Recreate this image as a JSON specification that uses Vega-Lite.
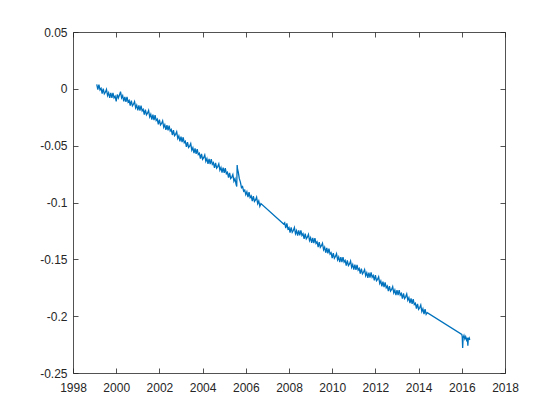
{
  "$schema": "https://vega.github.io/schema/vega-lite/v6.json",
  "width": 432,
  "height": 341,
  "autosize": "none",
  "padding": {"left": 73, "top": 32, "right": 55, "bottom": 47},
  "background": "white",
  "config": {
    "view": {"stroke": null},
    "axis": {
      "grid": false,
      "domainColor": "#262626",
      "domainWidth": 0.8,
      "tickColor": "#262626",
      "tickWidth": 0.8,
      "tickSize": -5,
      "labelFont": "Liberation Sans",
      "labelFontSize": 12,
      "labelColor": "#262626",
      "title": null
    }
  },
  "data": {"values": [
    {"t": 1999.10, "v": 0.004}, {"t": 1999.15, "v": -0.0006}, {"t": 1999.20, "v": 0.0038}, {"t": 1999.25, "v": -0.0009},
    {"t": 1999.30, "v": 0.0005}, {"t": 1999.35, "v": -0.0041}, {"t": 1999.40, "v": 0.0002}, {"t": 1999.45, "v": -0.0044},
    {"t": 1999.50, "v": -0.003}, {"t": 1999.55, "v": -0.0005}, {"t": 1999.60, "v": -0.006}, {"t": 1999.65, "v": -0.0035},
    {"t": 1999.70, "v": -0.008}, {"t": 1999.75, "v": -0.0035}, {"t": 1999.80, "v": -0.008}, {"t": 1999.85, "v": -0.0035},
    {"t": 1999.90, "v": -0.008}, {"t": 1999.95, "v": -0.0065}, {"t": 2000.00, "v": -0.011}, {"t": 2000.05, "v": -0.005},
    {"t": 2000.10, "v": -0.008}, {"t": 2000.15, "v": -0.0055}, {"t": 2000.20, "v": -0.0025}, {"t": 2000.25, "v": -0.008},
    {"t": 2000.30, "v": -0.006}, {"t": 2000.35, "v": -0.011}, {"t": 2000.40, "v": -0.007}, {"t": 2000.45, "v": -0.0115},
    {"t": 2000.50, "v": -0.007}, {"t": 2000.55, "v": -0.0116}, {"t": 2000.60, "v": -0.0102}, {"t": 2000.65, "v": -0.0148},
    {"t": 2000.70, "v": -0.0104}, {"t": 2000.75, "v": -0.015}, {"t": 2000.80, "v": -0.0136}, {"t": 2000.85, "v": -0.0112},
    {"t": 2000.90, "v": -0.0168}, {"t": 2000.95, "v": -0.0144}, {"t": 2001.00, "v": -0.019}, {"t": 2001.05, "v": -0.0146},
    {"t": 2001.10, "v": -0.0192}, {"t": 2001.15, "v": -0.0148}, {"t": 2001.20, "v": -0.0194}, {"t": 2001.25, "v": -0.018},
    {"t": 2001.30, "v": -0.0226}, {"t": 2001.35, "v": -0.0182}, {"t": 2001.40, "v": -0.0228}, {"t": 2001.45, "v": -0.0214},
    {"t": 2001.50, "v": -0.019}, {"t": 2001.55, "v": -0.0247}, {"t": 2001.60, "v": -0.0224}, {"t": 2001.65, "v": -0.0271},
    {"t": 2001.70, "v": -0.0228}, {"t": 2001.75, "v": -0.0275}, {"t": 2001.80, "v": -0.0232}, {"t": 2001.85, "v": -0.0279},
    {"t": 2001.90, "v": -0.0266}, {"t": 2001.95, "v": -0.0313}, {"t": 2002.00, "v": -0.027}, {"t": 2002.05, "v": -0.0317},
    {"t": 2002.10, "v": -0.0304}, {"t": 2002.15, "v": -0.0281}, {"t": 2002.20, "v": -0.0338}, {"t": 2002.25, "v": -0.0315},
    {"t": 2002.30, "v": -0.0362}, {"t": 2002.35, "v": -0.0319}, {"t": 2002.40, "v": -0.0366}, {"t": 2002.45, "v": -0.0323},
    {"t": 2002.50, "v": -0.037}, {"t": 2002.55, "v": -0.0358}, {"t": 2002.60, "v": -0.0406}, {"t": 2002.65, "v": -0.0364},
    {"t": 2002.70, "v": -0.0412}, {"t": 2002.75, "v": -0.040}, {"t": 2002.80, "v": -0.0378}, {"t": 2002.85, "v": -0.0436},
    {"t": 2002.90, "v": -0.0414}, {"t": 2002.95, "v": -0.0462}, {"t": 2003.00, "v": -0.042}, {"t": 2003.05, "v": -0.0468},
    {"t": 2003.10, "v": -0.0426}, {"t": 2003.15, "v": -0.0474}, {"t": 2003.20, "v": -0.0462}, {"t": 2003.25, "v": -0.051},
    {"t": 2003.30, "v": -0.0468}, {"t": 2003.35, "v": -0.0516}, {"t": 2003.40, "v": -0.0504}, {"t": 2003.45, "v": -0.0482},
    {"t": 2003.50, "v": -0.054}, {"t": 2003.55, "v": -0.0518}, {"t": 2003.60, "v": -0.0566}, {"t": 2003.65, "v": -0.0524},
    {"t": 2003.70, "v": -0.0572}, {"t": 2003.75, "v": -0.053}, {"t": 2003.80, "v": -0.0578}, {"t": 2003.85, "v": -0.0566},
    {"t": 2003.90, "v": -0.0614}, {"t": 2003.95, "v": -0.0572}, {"t": 2004.00, "v": -0.062}, {"t": 2004.05, "v": -0.0606},
    {"t": 2004.10, "v": -0.0582}, {"t": 2004.15, "v": -0.0638}, {"t": 2004.20, "v": -0.0614}, {"t": 2004.25, "v": -0.066},
    {"t": 2004.30, "v": -0.0616}, {"t": 2004.35, "v": -0.0662}, {"t": 2004.40, "v": -0.0618}, {"t": 2004.45, "v": -0.0664},
    {"t": 2004.50, "v": -0.065}, {"t": 2004.55, "v": -0.0696}, {"t": 2004.60, "v": -0.0652}, {"t": 2004.65, "v": -0.0698},
    {"t": 2004.70, "v": -0.0684}, {"t": 2004.75, "v": -0.066}, {"t": 2004.80, "v": -0.0716}, {"t": 2004.85, "v": -0.0692},
    {"t": 2004.90, "v": -0.0738}, {"t": 2004.95, "v": -0.0694}, {"t": 2005.00, "v": -0.074}, {"t": 2005.05, "v": -0.0698},
    {"t": 2005.10, "v": -0.0746}, {"t": 2005.15, "v": -0.0734}, {"t": 2005.20, "v": -0.0782}, {"t": 2005.25, "v": -0.074},
    {"t": 2005.30, "v": -0.0788}, {"t": 2005.35, "v": -0.0776}, {"t": 2005.40, "v": -0.0754}, {"t": 2005.45, "v": -0.0812},
    {"t": 2005.50, "v": -0.079}, {"t": 2005.55, "v": -0.084}, {"t": 2005.58, "v": -0.086}, {"t": 2005.60, "v": -0.067},
    {"t": 2005.62, "v": -0.071}, {"t": 2005.65, "v": -0.073}, {"t": 2005.70, "v": -0.079}, {"t": 2005.75, "v": -0.082},
    {"t": 2005.80, "v": -0.087}, {"t": 2005.85, "v": -0.086}, {"t": 2005.90, "v": -0.090}, {"t": 2005.95, "v": -0.089},
    {"t": 2006.00, "v": -0.093}, {"t": 2006.05, "v": -0.0906}, {"t": 2006.10, "v": -0.0953}, {"t": 2006.15, "v": -0.0909},
    {"t": 2006.20, "v": -0.0956}, {"t": 2006.25, "v": -0.0942}, {"t": 2006.30, "v": -0.0988}, {"t": 2006.35, "v": -0.0945},
    {"t": 2006.40, "v": -0.0991}, {"t": 2006.45, "v": -0.0978}, {"t": 2006.50, "v": -0.0954}, {"t": 2006.55, "v": -0.101},
    {"t": 2006.60, "v": -0.0987}, {"t": 2006.65, "v": -0.1033}, {"t": 2006.70, "v": -0.101}, {"t": 2007.75, "v": -0.119},
    {"t": 2007.80, "v": -0.1178}, {"t": 2007.85, "v": -0.1226}, {"t": 2007.90, "v": -0.1184}, {"t": 2007.95, "v": -0.1232},
    {"t": 2008.00, "v": -0.122}, {"t": 2008.05, "v": -0.1264}, {"t": 2008.10, "v": -0.1218}, {"t": 2008.15, "v": -0.1262},
    {"t": 2008.20, "v": -0.1246}, {"t": 2008.25, "v": -0.122}, {"t": 2008.30, "v": -0.1274}, {"t": 2008.35, "v": -0.1248},
    {"t": 2008.40, "v": -0.1292}, {"t": 2008.45, "v": -0.1246}, {"t": 2008.50, "v": -0.129}, {"t": 2008.55, "v": -0.1245},
    {"t": 2008.60, "v": -0.129}, {"t": 2008.65, "v": -0.1275}, {"t": 2008.70, "v": -0.132}, {"t": 2008.75, "v": -0.1275},
    {"t": 2008.80, "v": -0.132}, {"t": 2008.85, "v": -0.1305}, {"t": 2008.90, "v": -0.128}, {"t": 2008.95, "v": -0.1335},
    {"t": 2009.00, "v": -0.131}, {"t": 2009.05, "v": -0.1356}, {"t": 2009.10, "v": -0.1312}, {"t": 2009.15, "v": -0.1358},
    {"t": 2009.20, "v": -0.1314}, {"t": 2009.25, "v": -0.136}, {"t": 2009.30, "v": -0.1346}, {"t": 2009.35, "v": -0.1392},
    {"t": 2009.40, "v": -0.1348}, {"t": 2009.45, "v": -0.1394}, {"t": 2009.50, "v": -0.138}, {"t": 2009.55, "v": -0.1358},
    {"t": 2009.60, "v": -0.1416}, {"t": 2009.65, "v": -0.1394}, {"t": 2009.70, "v": -0.1442}, {"t": 2009.75, "v": -0.140},
    {"t": 2009.80, "v": -0.1448}, {"t": 2009.85, "v": -0.1406}, {"t": 2009.90, "v": -0.1454}, {"t": 2009.95, "v": -0.1442},
    {"t": 2010.00, "v": -0.149}, {"t": 2010.05, "v": -0.1445}, {"t": 2010.10, "v": -0.149}, {"t": 2010.15, "v": -0.1475},
    {"t": 2010.20, "v": -0.145}, {"t": 2010.25, "v": -0.1505}, {"t": 2010.30, "v": -0.148}, {"t": 2010.35, "v": -0.1525},
    {"t": 2010.40, "v": -0.148}, {"t": 2010.45, "v": -0.1525}, {"t": 2010.50, "v": -0.148}, {"t": 2010.55, "v": -0.1525},
    {"t": 2010.60, "v": -0.151}, {"t": 2010.65, "v": -0.1555}, {"t": 2010.70, "v": -0.151}, {"t": 2010.75, "v": -0.1555},
    {"t": 2010.80, "v": -0.154}, {"t": 2010.85, "v": -0.1515}, {"t": 2010.90, "v": -0.157}, {"t": 2010.95, "v": -0.1545},
    {"t": 2011.00, "v": -0.159}, {"t": 2011.05, "v": -0.1546}, {"t": 2011.10, "v": -0.1592}, {"t": 2011.15, "v": -0.1548},
    {"t": 2011.20, "v": -0.1594}, {"t": 2011.25, "v": -0.158}, {"t": 2011.30, "v": -0.1626}, {"t": 2011.35, "v": -0.1582},
    {"t": 2011.40, "v": -0.1628}, {"t": 2011.45, "v": -0.1614}, {"t": 2011.50, "v": -0.159}, {"t": 2011.55, "v": -0.1644},
    {"t": 2011.60, "v": -0.1618}, {"t": 2011.65, "v": -0.1662}, {"t": 2011.70, "v": -0.1616}, {"t": 2011.75, "v": -0.166},
    {"t": 2011.80, "v": -0.1614}, {"t": 2011.85, "v": -0.1658}, {"t": 2011.90, "v": -0.1642}, {"t": 2011.95, "v": -0.1686},
    {"t": 2012.00, "v": -0.164}, {"t": 2012.05, "v": -0.1688}, {"t": 2012.10, "v": -0.1676}, {"t": 2012.15, "v": -0.1654},
    {"t": 2012.20, "v": -0.1712}, {"t": 2012.25, "v": -0.169}, {"t": 2012.30, "v": -0.1738}, {"t": 2012.35, "v": -0.1696},
    {"t": 2012.40, "v": -0.1744}, {"t": 2012.45, "v": -0.1702}, {"t": 2012.50, "v": -0.175}, {"t": 2012.55, "v": -0.1735},
    {"t": 2012.60, "v": -0.178}, {"t": 2012.65, "v": -0.1735}, {"t": 2012.70, "v": -0.178}, {"t": 2012.75, "v": -0.1765},
    {"t": 2012.80, "v": -0.174}, {"t": 2012.85, "v": -0.1795}, {"t": 2012.90, "v": -0.177}, {"t": 2012.95, "v": -0.1815},
    {"t": 2013.00, "v": -0.177}, {"t": 2013.05, "v": -0.1815}, {"t": 2013.10, "v": -0.177}, {"t": 2013.15, "v": -0.1815},
    {"t": 2013.20, "v": -0.180}, {"t": 2013.25, "v": -0.1845}, {"t": 2013.30, "v": -0.180}, {"t": 2013.35, "v": -0.1845},
    {"t": 2013.40, "v": -0.183}, {"t": 2013.45, "v": -0.1805}, {"t": 2013.50, "v": -0.186}, {"t": 2013.55, "v": -0.1838},
    {"t": 2013.60, "v": -0.1886}, {"t": 2013.65, "v": -0.1844}, {"t": 2013.70, "v": -0.1892}, {"t": 2013.75, "v": -0.185},
    {"t": 2013.80, "v": -0.1898}, {"t": 2013.85, "v": -0.1886}, {"t": 2013.90, "v": -0.1934}, {"t": 2013.95, "v": -0.1892},
    {"t": 2014.00, "v": -0.194}, {"t": 2014.05, "v": -0.1926}, {"t": 2014.10, "v": -0.1902}, {"t": 2014.15, "v": -0.1959},
    {"t": 2014.20, "v": -0.1935}, {"t": 2014.25, "v": -0.1981}, {"t": 2014.30, "v": -0.1938}, {"t": 2014.35, "v": -0.1984},
    {"t": 2014.40, "v": -0.197}, {"t": 2016.00, "v": -0.216}, {"t": 2016.02, "v": -0.218}, {"t": 2016.04, "v": -0.228},
    {"t": 2016.06, "v": -0.219}, {"t": 2016.10, "v": -0.217}, {"t": 2016.14, "v": -0.220}, {"t": 2016.18, "v": -0.218},
    {"t": 2016.22, "v": -0.221}, {"t": 2016.26, "v": -0.219}, {"t": 2016.28, "v": -0.226}, {"t": 2016.30, "v": -0.220},
    {"t": 2016.34, "v": -0.219}, {"t": 2016.37, "v": -0.221}
  ]},
  "layer": [
    {
      "mark": {"type": "line", "color": "#0072BD", "strokeWidth": 1.3, "clip": true},
      "encoding": {
        "x": {"field": "t", "type": "quantitative",
              "scale": {"domain": [1998, 2018], "nice": false, "zero": false},
              "axis": {"orient": "bottom", "values": [1998, 2000, 2002, 2004, 2006, 2008, 2010, 2012, 2014, 2016, 2018],
                       "labelExpr": "datum.value + ''", "labelPadding": 14, "labelFlush": false}},
        "y": {"field": "v", "type": "quantitative",
              "scale": {"domain": [-0.25, 0.05], "nice": false, "zero": false},
              "axis": {"orient": "left", "values": [-0.25, -0.2, -0.15, -0.1, -0.05, 0, 0.05],
                       "labelExpr": "(round(datum.value*100)/100) + ''", "labelPadding": 11, "labelFlush": false}}
      }
    },
    {
      "mark": {"type": "line", "opacity": 0},
      "encoding": {
        "x": {"field": "t", "type": "quantitative",
              "axis": {"orient": "top", "labels": false, "values": [1998, 2000, 2002, 2004, 2006, 2008, 2010, 2012, 2014, 2016, 2018]}},
        "y": {"field": "v", "type": "quantitative",
              "axis": {"orient": "right", "labels": false, "values": [-0.25, -0.2, -0.15, -0.1, -0.05, 0, 0.05]}}
      }
    }
  ],
  "resolve": {"axis": {"x": "independent", "y": "independent"}}
}
